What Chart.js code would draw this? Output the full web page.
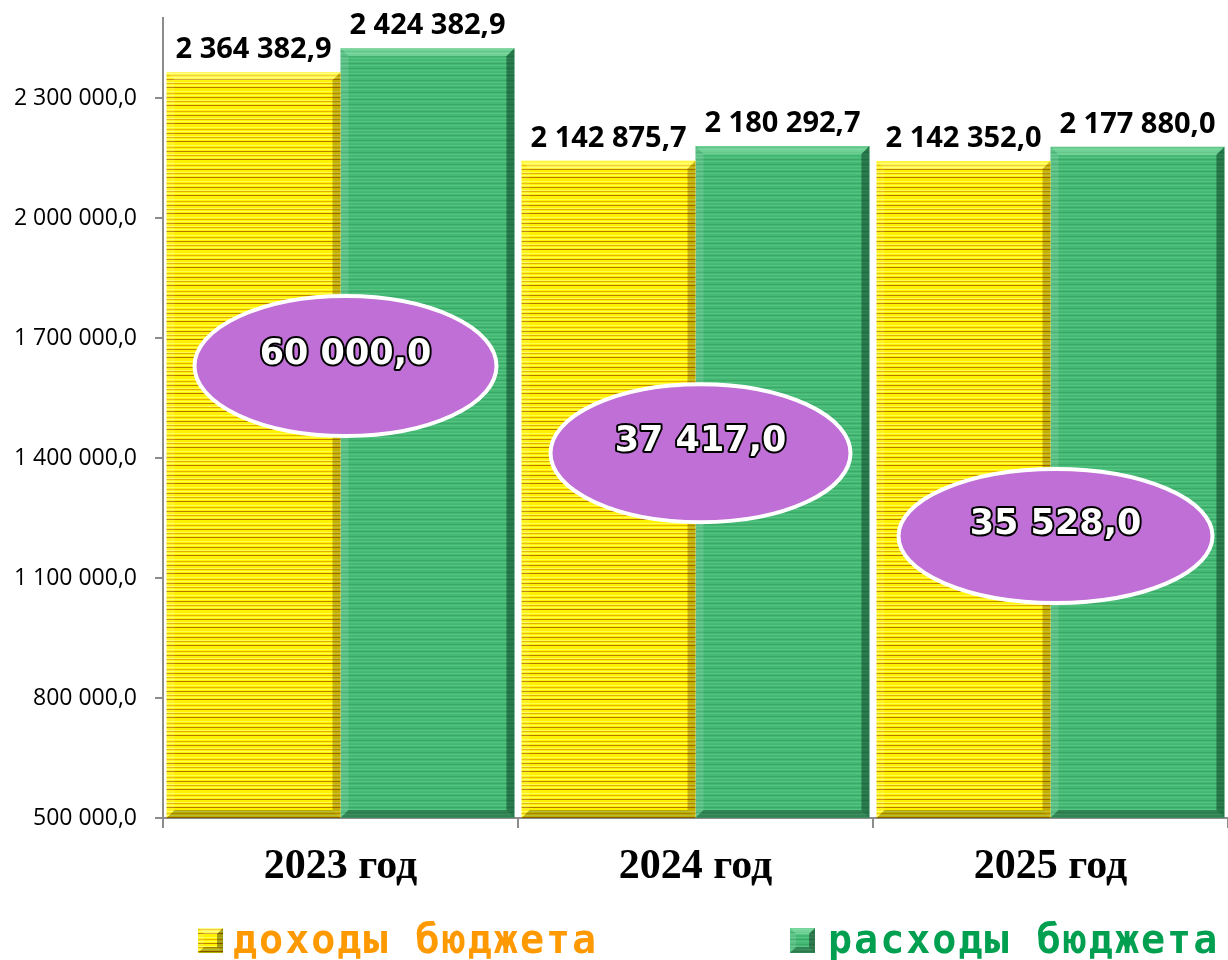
<!DOCTYPE html>
<html>
<head>
<meta charset="utf-8">
<script src="https://cdn.jsdelivr.net/npm/chart.js@4.4.1/dist/chart.umd.min.js"></script>
<style>
  html, body { margin: 0; padding: 0; background: #ffffff; }
  #wrap { width: 1228px; height: 960px; position: relative; }
</style>
</head>
<body>
<div id="wrap"><canvas id="c"></canvas></div>
<script>
// ---- data ----
const categories = ['2023 год', '2024 год', '2025 год'];
const seriesNames = ['доходы бюджета', 'расходы бюджета'];
const incomeValues = [2364382.9, 2142875.7, 2142352.0];
const expenseValues = [2424382.9, 2180292.7, 2177880.0];
const deficitValues = [60000.0, 37417.0, 35528.0];
const yTickValues = [500000, 800000, 1100000, 1400000, 1700000, 2000000, 2300000];
const yMin = 500000;
const yMax = 2500000;

function fmt(v) {
  const parts = v.toFixed(1).split('.');
  return parts[0].replace(/\B(?=(\d{3})+(?!\d))/g, ' ') + ',' + parts[1];
}

// ---- patterns ----
function makePattern(base, rows) {
  const t = document.createElement('canvas');
  t.width = 8; t.height = rows.length;
  const g = t.getContext('2d');
  g.fillStyle = base; g.fillRect(0, 0, 8, rows.length);
  rows.forEach((c, i) => { if (c) { g.fillStyle = c; g.fillRect(0, i, 8, 1); } });
  return document.getElementById('c').getContext('2d').createPattern(t, 'repeat');
}
const yellowPattern = makePattern('#fff200', [
  null, '#ffff50', null, '#e6b400', null, '#ffff50', null, '#c08000',
  null, null, '#ffff50', '#e2ac00', null, '#ffff50', null, '#b87400', null, null
]);
const greenPattern = makePattern('#44b773', [
  null, '#56c484', null, '#3aa866', null, '#56c484', null, null, '#3aa866', null, '#56c484', null
]);

function bevel(ctx, x1, y1, x2, y2, b, light, dark) {
  ctx.save();
  ctx.fillStyle = light;
  ctx.beginPath(); ctx.moveTo(x1, y1); ctx.lineTo(x2, y1); ctx.lineTo(x2 - b, y1 + b); ctx.lineTo(x1 + b, y1 + b); ctx.closePath(); ctx.fill();
  ctx.fillStyle = 'rgba(255,255,255,0.12)';
  ctx.beginPath(); ctx.moveTo(x1, y1); ctx.lineTo(x1 + b, y1 + b); ctx.lineTo(x1 + b, y2 - b); ctx.lineTo(x1, y2); ctx.closePath(); ctx.fill();
  ctx.fillStyle = dark;
  ctx.beginPath(); ctx.moveTo(x2, y1); ctx.lineTo(x2, y2); ctx.lineTo(x2 - b, y2 - b); ctx.lineTo(x2 - b, y1 + b); ctx.closePath(); ctx.fill();
  ctx.fillStyle = 'rgba(0,0,0,0.28)';
  ctx.beginPath(); ctx.moveTo(x1, y2); ctx.lineTo(x2, y2); ctx.lineTo(x2 - b, y2 - b); ctx.lineTo(x1 + b, y2 - b); ctx.closePath(); ctx.fill();
  ctx.restore();
}

const bevelPlugin = {
  id: 'bevelPlugin',
  afterDatasetsDraw(chart) {
    const ctx = chart.ctx;
    const area = chart.chartArea;
    chart.data.datasets.forEach((ds, di) => {
      const meta = chart.getDatasetMeta(di);
      meta.data.forEach((bar) => {
        const w = bar.width;
        const x1 = bar.x - w / 2, x2 = bar.x + w / 2;
        const yb = Math.min(bar.base, area.bottom);
        const light = di === 0 ? 'rgba(255,255,200,0.35)' : 'rgba(190,255,210,0.35)';
        const dark = di === 0 ? 'rgba(90,60,0,0.35)' : 'rgba(0,40,20,0.45)';
        bevel(ctx, x1, bar.y, x2, yb, 8, light, dark);
      });
    });
  }
};

const valueLabelPlugin = {
  id: 'valueLabelPlugin',
  afterDatasetsDraw(chart) {
    const ctx = chart.ctx;
    ctx.save();
    ctx.font = 'bold 29px "Open Sans"';
    ctx.fillStyle = '#000';
    ctx.textAlign = 'center';
    ctx.textBaseline = 'alphabetic';
    chart.data.datasets.forEach((ds, di) => {
      chart.getDatasetMeta(di).data.forEach((bar, i) => {
        ctx.fillText(fmt(ds.data[i]), bar.x, bar.y - 14);
      });
    });
    ctx.restore();
  }
};

const bubblePlugin = {
  id: 'bubblePlugin',
  afterDatasetsDraw(chart, args, opts) {
    const ctx = chart.ctx;
    const xs = chart.scales.x;
    const area = chart.chartArea;
    ctx.save();
    deficitValues.forEach((v, i) => {
      const cx = xs.getPixelForValue(i) + opts.dx;
      const cy = area.top + opts.yFrac[i] * (area.bottom - area.top);
      ctx.beginPath();
      ctx.ellipse(cx, cy, opts.rx[i], opts.ry[i], 0, 0, Math.PI * 2);
      ctx.fillStyle = '#bf6fd6';
      ctx.fill();
      ctx.lineWidth = 4;
      ctx.strokeStyle = '#ffffff';
      ctx.stroke();
      ctx.font = 'bold 35px "DejaVu Sans"';
      ctx.textAlign = 'center';
      ctx.textBaseline = 'middle';
      ctx.lineJoin = 'round';
      ctx.lineWidth = 4;
      ctx.strokeStyle = '#000';
      ctx.strokeText(fmt(v), cx, cy - 11);
      ctx.fillStyle = '#fff';
      ctx.fillText(fmt(v), cx, cy - 11);
    });
    ctx.restore();
  }
};

const legendPlugin = {
  id: 'customLegend',
  afterDraw(chart, args, opts) {
    const ctx = chart.ctx;
    ctx.save();
    opts.items.forEach((it, i) => {
      const pat = i === 0 ? yellowPattern : greenPattern;
      ctx.fillStyle = pat;
      ctx.fillRect(it.bx, opts.boxY, opts.box, opts.box);
      bevel(ctx, it.bx, opts.boxY, it.bx + opts.box, opts.boxY + opts.box, 6,
        i === 0 ? 'rgba(255,255,200,0.4)' : 'rgba(190,255,210,0.4)',
        'rgba(0,0,0,0.35)');
      ctx.font = 'bold 40px "DejaVu Sans Mono"';
      ctx.letterSpacing = '2px';
      ctx.fillStyle = it.color;
      ctx.textAlign = 'left';
      ctx.textBaseline = 'alphabetic';
      ctx.fillText(seriesNames[i], it.tx, opts.textY);
    });
    ctx.restore();
  }
};

new Chart(document.getElementById('c'), {
  type: 'bar',
  data: {
    labels: categories,
    datasets: [
      { label: seriesNames[0], data: incomeValues, backgroundColor: yellowPattern, borderWidth: 0 },
      { label: seriesNames[1], data: expenseValues, backgroundColor: greenPattern, borderWidth: 0 }
    ]
  },
  options: {
    responsive: true,
    maintainAspectRatio: false,
    animation: false,
    layout: { padding: { top: 18, right: 0, left: 0, bottom: 62 } },
    datasets: { bar: { categoryPercentage: 0.98, barPercentage: 1.0 } },
    scales: {
      x: {
        afterFit(s) { s.height = 80; s.paddingLeft = 0; s.paddingRight = 0; },
        grid: { offset: true, drawOnChartArea: false, drawTicks: true, tickLength: 10, color: '#8c8c8c', lineWidth: 2 },
        border: { display: true, color: '#8c8c8c', width: 2 },
        ticks: { color: '#000', padding: 14, font: { family: '"Liberation Serif"', size: 42, weight: 'bold' } }
      },
      y: {
        min: yMin, max: yMax,
        afterFit(s) { s.width = 163; s.paddingTop = 0; s.paddingBottom = 0; },
        afterBuildTicks(s) { s.ticks = yTickValues.map(v => ({ value: v })); },
        grid: { drawOnChartArea: false, drawTicks: true, tickLength: 8, color: '#8c8c8c', lineWidth: 2 },
        border: { display: true, color: '#8c8c8c', width: 2 },
        ticks: { color: '#000', padding: 18, font: { family: '"Open Sans"', size: 23 }, callback: (v) => fmt(v) }
      }
    },
    plugins: {
      legend: { display: false },
      tooltip: { enabled: false },
      bubblePlugin: { dx: 5, yFrac: [0.435, 0.544, 0.6475], rx: [151, 150, 157], ry: [70, 69, 67] },
      customLegend: {
        box: 25, boxY: 928, textY: 953,
        items: [
          { bx: 198, tx: 233, color: '#ff9900' },
          { bx: 790, tx: 828, color: '#00a050' }
        ]
      }
    }
  },
  plugins: [bevelPlugin, valueLabelPlugin, bubblePlugin, legendPlugin]
});
</script>
</body>
</html>
